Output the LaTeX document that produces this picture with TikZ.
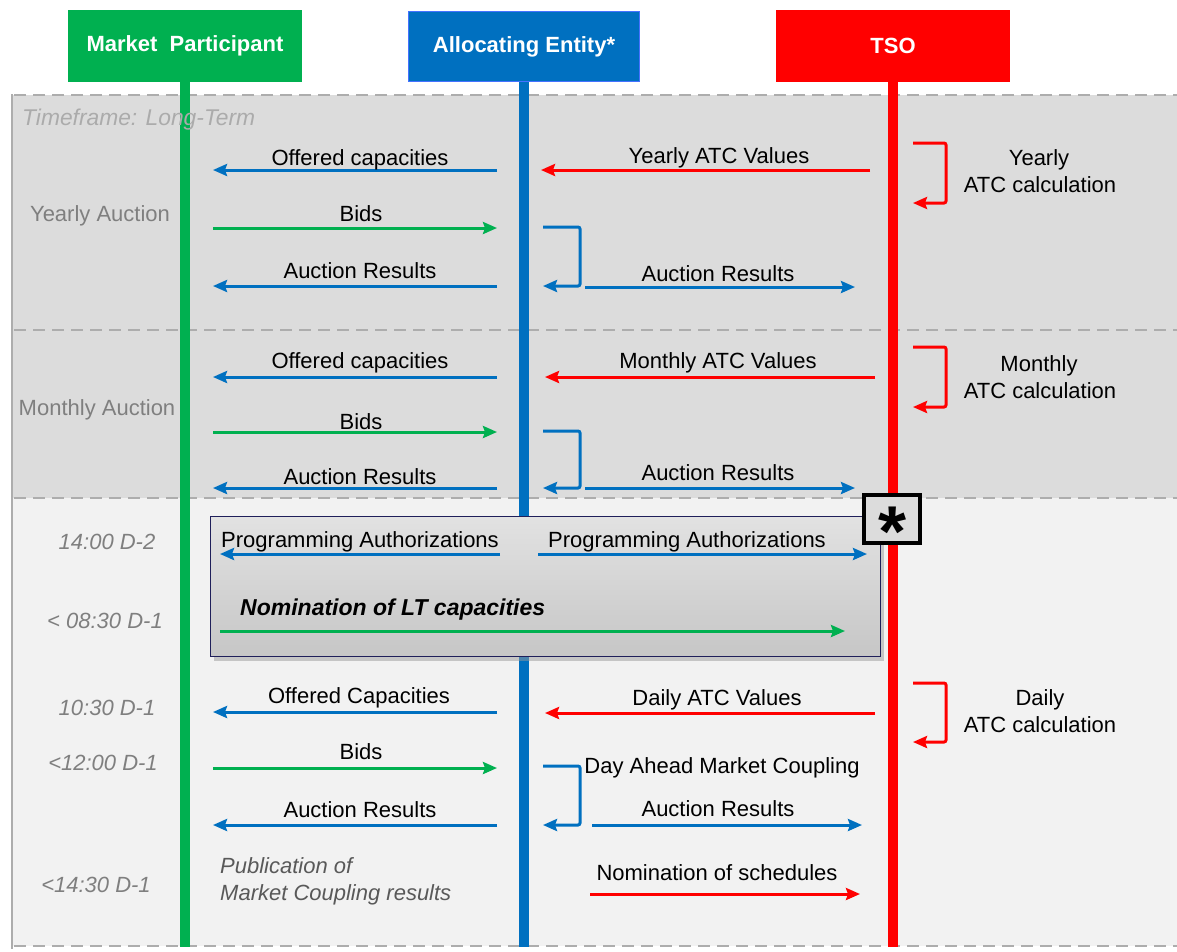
\documentclass[tikz,border=0pt]{standalone}
\usepackage{fontspec}
\setmainfont{Liberation Sans}
\usetikzlibrary{arrows.meta,shadows}
\definecolor{cGreen}{HTML}{00B050}
\definecolor{cBlue}{HTML}{0070C0}
\definecolor{cBlueB}{HTML}{4472FF}
\definecolor{cRed}{HTML}{FF0000}
\definecolor{cLT}{HTML}{DCDCDC}
\definecolor{cDA}{HTML}{F2F2F2}
\definecolor{cDash}{HTML}{ADADAD}
\definecolor{cTime}{HTML}{7F7F7F}
\definecolor{cTF}{HTML}{ABABAB}
\definecolor{cPub}{HTML}{595959}
\definecolor{cBoxB}{HTML}{1F1F5A}
\definecolor{cBoxTop}{HTML}{E2E2E2}
\definecolor{cBoxBot}{HTML}{C6C6C6}
\tikzset{
  hdr/.style={minimum width=234pt, minimum height=72pt, inner sep=0pt,
    font=\bfseries\fontsize{22}{26}\selectfont, text=white},
  txt/.style={font=\fontsize{22}{26}\selectfont, inner sep=0pt, anchor=base},
  tim/.style={txt, font=\itshape\fontsize{22}{26}\selectfont, text=cTime},
  arr/.style={line width=3pt, -{Stealth[length=14pt,width=12pt,inset=2pt]}},
  arrB/.style={arr, draw=cBlue},
  arrG/.style={arr, draw=cGreen},
  arrR/.style={arr, draw=cRed},
  loopB/.style={arrB, rounded corners=2pt},
  loopR/.style={arrR, rounded corners=2pt},
  life/.style={line width=10pt},
  sepline/.style={draw=cDash, line width=2.5pt, dash pattern=on 12pt off 7pt},
}
\begin{document}
\begin{tikzpicture}[x=1pt,y=-1pt]
\useasboundingbox (0,0) rectangle (1177,951);
\fill[white] (0,0) rectangle (1177,951);
% backgrounds
\fill[cLT] (12,95) rectangle (1177,498);
\fill[cDA] (12,498) rectangle (1177,946);
\draw[sepline] (14,95) -- (1177,95);
\draw[sepline] (14,330) -- (1177,330);
\draw[sepline] (14,498) -- (1177,498);
\draw[sepline] (14,946) -- (1177,946);
\draw[cDash, line width=2.5pt] (12,94) -- (12,949);

% headers
\node[hdr, fill=cGreen] (mp) at (185,46) {Market\ \ Participant};
\node[hdr, fill=cBlue, draw=cBlueB, line width=1.2pt, minimum width=231pt, minimum height=70pt] (ae) at (524,46.5) {Allocating Entity*};
\node[hdr, fill=cRed] (tso) at (893,46) {TSO};

% lifelines
\coordinate (mpE) at (185,947);
\coordinate (aeE) at (524,947);
\coordinate (tsoE) at (893,947);
\draw[cGreen, life] (mp.south) -- (mpE);
\draw[cBlue, life] (ae.south) -- (aeE);
\draw[cRed, life] (tso.south) -- (tsoE);

% region labels
\node[txt, anchor=base west, font=\itshape\fontsize{22.8}{26}\selectfont, text=cTF] (tf) at (22,125) {Timeframe: Long-Term};
\node[txt, text=cTime] (ya) at (100,221) {Yearly Auction};
\node[txt, text=cTime] (ma) at (97,415) {Monthly Auction};

% ---------------- Yearly
\coordinate (y1a) at (497,170); \coordinate (y1b) at (213,170);
\coordinate (y2a) at (870,170); \coordinate (y2b) at (541,170);
\coordinate (y3a) at (213,228); \coordinate (y3b) at (497,228);
\coordinate (y4a) at (497,286); \coordinate (y4b) at (213,286);
\coordinate (y5a) at (543,227); \coordinate (y5b) at (543,286);
\coordinate (y6a) at (585,287); \coordinate (y6b) at (855,287);
\coordinate (y7a) at (913,143); \coordinate (y7b) at (913,203);
\draw[arrB] (y1a) -- (y1b);
\draw[arrR] (y2a) -- (y2b);
\draw[arrG] (y3a) -- (y3b);
\draw[arrB] (y4a) -- (y4b);
\draw[loopB] (y5a) -- ++(37,0) |- (y5b);
\draw[arrB] (y6a) -- (y6b);
\draw[loopR] (y7a) -- ++(33,0) |- (y7b);
\node[txt] (yl1) at (360,165) {Offered capacities};
\node[txt] (yl2) at (719,163) {Yearly ATC Values};
\node[txt] (yl3) at (361,221) {Bids};
\node[txt] (yl4) at (360,278) {Auction Results};
\node[txt] (yl5) at (718,281) {Auction Results};
\node[txt] (yl6) at (1039,165) {Yearly};
\node[txt] (yl7) at (1040,192) {ATC calculation};

% ---------------- Monthly
\coordinate (m1a) at (497,377); \coordinate (m1b) at (213,377);
\coordinate (m2a) at (875,377); \coordinate (m2b) at (545,377);
\coordinate (m3a) at (213,432); \coordinate (m3b) at (497,432);
\coordinate (m4a) at (497,488); \coordinate (m4b) at (213,488);
\coordinate (m5a) at (543,431); \coordinate (m5b) at (543,488);
\coordinate (m6a) at (585,488); \coordinate (m6b) at (855,488);
\coordinate (m7a) at (913,347); \coordinate (m7b) at (913,407);
\draw[arrB] (m1a) -- (m1b);
\draw[arrR] (m2a) -- (m2b);
\draw[arrG] (m3a) -- (m3b);
\draw[arrB] (m4a) -- (m4b);
\draw[loopB] (m5a) -- ++(37,0) |- (m5b);
\draw[arrB] (m6a) -- (m6b);
\draw[loopR] (m7a) -- ++(33,0) |- (m7b);
\node[txt] (ml1) at (360,368) {Offered capacities};
\node[txt] (ml2) at (718,368) {Monthly ATC Values};
\node[txt] (ml3) at (361,429) {Bids};
\node[txt] (ml4) at (360,484) {Auction Results};
\node[txt] (ml5) at (718,480) {Auction Results};
\node[txt] (ml6) at (1039,371) {Monthly};
\node[txt] (ml7) at (1040,398) {ATC calculation};

% ---------------- Daily
\node[draw=cBoxB, line width=1.8pt, top color=cBoxTop, bottom color=cBoxBot,
  drop shadow={shadow xshift=3pt, shadow yshift=-4pt, fill=black!40},
  minimum width=670pt, minimum height=140pt, inner sep=0pt] (pbox) at (545.5,586.5) {};
\node[draw=black, line width=4pt, fill=cLT, minimum width=56pt, minimum height=48pt, inner sep=0pt] (star) at (892,519) {};
\node[txt, font=\bfseries\fontsize{72}{72}\selectfont] (ast) at (892,556) {*};

\coordinate (d1a) at (500,554); \coordinate (d1b) at (220,554);
\coordinate (d2a) at (538,554); \coordinate (d2b) at (867,554);
\coordinate (d3a) at (220,631); \coordinate (d3b) at (845,631);
\coordinate (d4a) at (497,712); \coordinate (d4b) at (213,712);
\coordinate (d5a) at (875,713); \coordinate (d5b) at (545,713);
\coordinate (d6a) at (213,768); \coordinate (d6b) at (497,768);
\coordinate (d7a) at (543,766); \coordinate (d7b) at (543,825);
\coordinate (d8a) at (497,825); \coordinate (d8b) at (213,825);
\coordinate (d9a) at (592,825); \coordinate (d9b) at (862,825);
\coordinate (d10a) at (590,894); \coordinate (d10b) at (860,894);
\coordinate (d11a) at (913,683); \coordinate (d11b) at (913,742);
\draw[arrB] (d1a) -- (d1b);
\draw[arrB] (d2a) -- (d2b);
\draw[arrG] (d3a) -- (d3b);
\draw[arrB] (d4a) -- (d4b);
\draw[arrR] (d5a) -- (d5b);
\draw[arrG] (d6a) -- (d6b);
\draw[loopB] (d7a) -- ++(37,0) |- (d7b);
\draw[arrB] (d8a) -- (d8b);
\draw[arrB] (d9a) -- (d9b);
\draw[arrR] (d10a) -- (d10b);
\draw[loopR] (d11a) -- ++(33,0) |- (d11b);

\node[txt] (dl1) at (360,547) {Programming Authorizations};
\node[txt] (dl2) at (687,547) {Programming Authorizations};
\node[txt, anchor=base west, font=\bfseries\itshape\fontsize{23}{26}\selectfont] (dl3) at (240,615) {Nomination of LT capacities};
\node[txt] (dl4) at (359,703) {Offered Capacities};
\node[txt] (dl5) at (717,705) {Daily ATC Values};
\node[txt] (dl6) at (361,759) {Bids};
\node[txt] (dl7) at (722,773) {Day Ahead Market Coupling};
\node[txt] (dl8) at (360,817) {Auction Results};
\node[txt] (dl9) at (718,816) {Auction Results};
\node[txt] (dl10) at (717,880) {Nomination of schedules};
\node[txt] (dl11) at (1040,705) {Daily};
\node[txt] (dl12) at (1040,732) {ATC calculation};
\node[txt, anchor=base west, font=\itshape\fontsize{22}{26}\selectfont, text=cPub] (pub1) at (220,873) {Publication of};
\node[txt, anchor=base west, font=\itshape\fontsize{22}{26}\selectfont, text=cPub] (pub2) at (220,900) {Market Coupling results};

% time labels
\node[tim] (t1) at (107,549) {14:00 D-2};
\node[tim] (t2) at (105,628) {< 08:30 D-1};
\node[tim] (t3) at (107,715) {10:30 D-1};
\node[tim] (t4) at (103,770) {<12:00 D-1};
\node[tim] (t5) at (96,892) {<14:30 D-1};
\end{tikzpicture}
\end{document}
